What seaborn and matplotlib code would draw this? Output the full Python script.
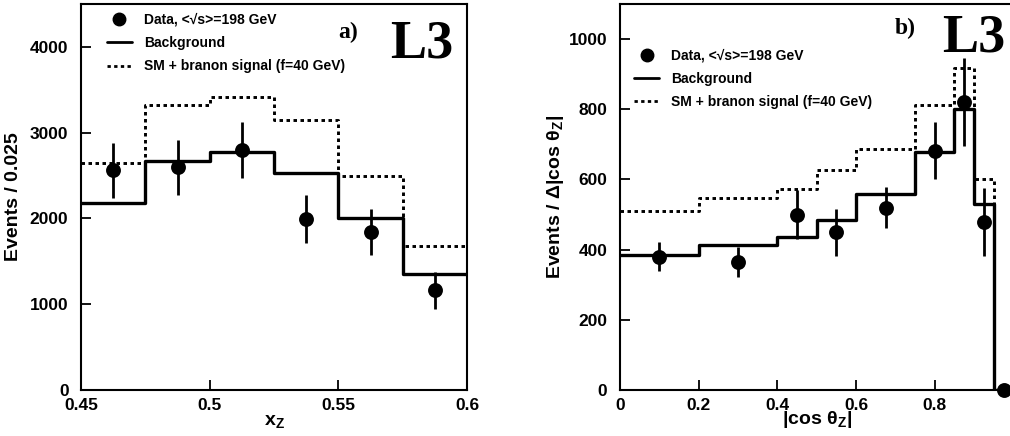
import numpy as np
import pandas as pd
import matplotlib
matplotlib.use("Agg")
import matplotlib.pyplot as plt
import seaborn as sns
from matplotlib.lines import Line2D

# ---------------- data ----------------
# panel a: x_Z
xz_edges = [0.45, 0.475, 0.5, 0.525, 0.55, 0.575, 0.6]
xz_bkg = [2182, 2672, 2777, 2524, 2000, 1351]
xz_sig = [2648, 3320, 3421, 3142, 2493, 1681]
xz_data_x = [0.4625, 0.4875, 0.5125, 0.5375, 0.5625, 0.5875]
xz_data_y = [2560, 2594, 2800, 1996, 1841, 1162]
xz_data_err = [316, 324, 330, 280, 270, 213]

# panel b: |cos theta_Z|
ct_edges = [0.0, 0.2, 0.4, 0.5, 0.6, 0.75, 0.85, 0.9, 0.95, 1.0]
ct_bkg = [386, 413, 436, 484, 558, 677, 800, 529, 0]
ct_sig = [509, 548, 573, 627, 687, 811, 919, 600, 0]
ct_data_x = [0.1, 0.3, 0.45, 0.55, 0.675, 0.8, 0.875, 0.925, 0.975]
ct_data_y = [380, 365, 499, 449, 520, 682, 820, 479, 0]
ct_data_err = [42, 42, 70, 66, 58, 82, 126, 97, 0]

xz_xticks = [0.45, 0.5, 0.55, 0.6]
xz_xticklabels = ["0.45", "0.5", "0.55", "0.6"]
xz_yticks = [0, 1000, 2000, 3000, 4000]
ct_xticks = [0, 0.2, 0.4, 0.6, 0.8, 1.0]
ct_xticklabels = ["0", "0.2", "0.4", "0.6", "0.8", "1"]
ct_yticks = [0, 200, 400, 600, 800, 1000]

legend_labels = ["Data, <\u221as>=198 GeV", "Background", "SM + branon signal (f=40 GeV)"]

# ---------------- style ----------------
sns.set_theme(style="ticks")
plt.rcParams["font.family"] = ["Liberation Sans", "DejaVu Sans"]
plt.rcParams["font.weight"] = "bold"
plt.rcParams["axes.labelweight"] = "bold"
plt.rcParams["mathtext.default"] = "regular"
plt.rcParams["text.color"] = "black"
plt.rcParams["axes.labelcolor"] = "black"
plt.rcParams["xtick.color"] = "black"
plt.rcParams["ytick.color"] = "black"
plt.rcParams["axes.edgecolor"] = "black"

W, H = 1010, 436
fig = plt.figure(figsize=(W / 100, H / 100), dpi=100)


def px_axes(left, top, right, bottom):
    return fig.add_axes([left / W, 1 - bottom / H, (right - left) / W, (bottom - top) / H])


ax_a = px_axes(81, 4, 467, 390)
ax_b = px_axes(620, 4, 1013.5, 390)


def draw_panel(ax, edges, bkg, sig, dx, dy, derr):
    centers = [(edges[i] + edges[i + 1]) / 2 for i in range(len(edges) - 1)]
    df = pd.DataFrame({"x": centers, "bkg": bkg, "sig": sig})
    sns.histplot(data=df, x="x", weights="sig", bins=edges, element="step", fill=False,
                 color="black", linestyle=(0, (1.2, 1.2)), linewidth=2.1, ax=ax)
    sns.histplot(data=df, x="x", weights="bkg", bins=edges, element="step", fill=False,
                 color="black", linestyle="-", linewidth=2.4, ax=ax)
    ax.errorbar(dx, dy, yerr=derr, fmt="none", ecolor="black", elinewidth=2.0, capsize=0,
                clip_on=False, zorder=5)
    sns.scatterplot(x=dx, y=dy, color="black", s=115, edgecolor="black", linewidth=0,
                    ax=ax, zorder=6, clip_on=False)


draw_panel(ax_a, xz_edges, xz_bkg, xz_sig, xz_data_x, xz_data_y, xz_data_err)
draw_panel(ax_b, ct_edges, ct_bkg, ct_sig, ct_data_x, ct_data_y, ct_data_err)

ax_a.set_xlim(0.45, 0.6)
ax_a.set_ylim(0, 4500)
ax_b.set_xlim(0, 1.0)
ax_b.set_ylim(0, 1100)

ax_a.set_xticks(xz_xticks)
ax_a.set_xticklabels(xz_xticklabels)
ax_a.set_yticks(xz_yticks)
ax_b.set_xticks(ct_xticks)
ax_b.set_xticklabels(ct_xticklabels)
ax_b.set_yticks(ct_yticks)

for ax in (ax_a, ax_b):
    for s in ax.spines.values():
        s.set_visible(True)
        s.set_linewidth(1.5)
        s.set_color("black")
    ax.tick_params(axis="both", direction="in", length=7, width=1.3, colors="black",
                   labelcolor="black", labelsize=12.5, top=False, right=False)
    ax.tick_params(axis="y", pad=9)
    ax.tick_params(axis="x", pad=6)
    for lab in ax.get_xticklabels() + ax.get_yticklabels():
        lab.set_fontweight("bold")
        lab.set_color("black")
    ax.set_facecolor("white")

ax_a.set_xlabel("x$_{Z}$", fontsize=14, fontweight="bold", labelpad=0, color="black")
ax_a.set_ylabel("Events / 0.025", fontsize=14, fontweight="bold", labelpad=6, color="black")
ax_b.set_xlabel("|cos \u03b8$_{Z}$|", fontsize=14, fontweight="bold", labelpad=-3, color="black")
ax_b.set_ylabel("Events / \u0394|cos \u03b8$_{Z}$|", fontsize=14, fontweight="bold", labelpad=2,
                color="black")


def make_legend(ax, x, y):
    handles = [
        Line2D([], [], marker="o", color="black", linestyle="none", markersize=9),
        Line2D([], [], color="black", linestyle="-", linewidth=2.0),
        Line2D([], [], color="black", linestyle=(0, (1.2, 1.2)), linewidth=2.0),
    ]
    leg = ax.legend(handles, legend_labels, loc="upper left", bbox_to_anchor=(x, y),
                    frameon=False, borderpad=0, borderaxespad=0, handlelength=1.8,
                    handletextpad=0.85, labelspacing=0.68,
                    prop={"family": ["Liberation Sans", "DejaVu Sans"], "weight": "bold", "size": 10})
    for t in leg.get_texts():
        t.set_color("black")
    return leg


make_legend(ax_a, 0.067, 0.978)
make_legend(ax_b, 0.036, 0.885)

serif = ["Liberation Serif", "DejaVu Serif"]
fig.text(338 / W, 1 - 38 / H, "a)", fontsize=17, color="black",
         fontweight="bold", family=serif, ha="left", va="baseline")
fig.text(390 / W, 1 - 57 / H, "L3", fontsize=39, color="black",
         fontweight="bold", family=serif, ha="left", va="baseline")
fig.text(895 / W, 1 - 34 / H, "b)", fontsize=17, color="black",
         fontweight="bold", family=serif, ha="left", va="baseline")
fig.text(942 / W, 1 - 52 / H, "L3", fontsize=39, color="black",
         fontweight="bold", family=serif, ha="left", va="baseline")

fig.savefig("out.png", dpi=100, facecolor="white")
